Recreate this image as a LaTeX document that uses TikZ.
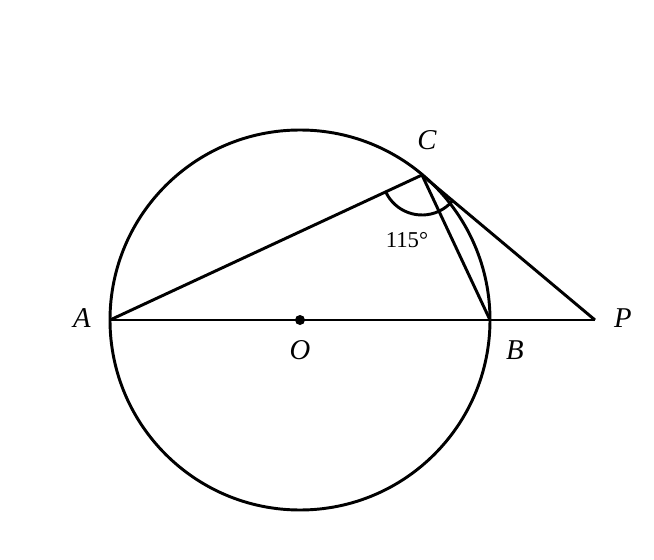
\documentclass[tikz,border=0pt]{standalone}
\usepackage{fontspec}
\setmainfont{Liberation Serif}
\begin{document}
\begin{tikzpicture}[x=0.75pt,y=-0.75pt,
  geo/.style={line width=2.2pt, line join=round},
  ptlabel/.style={font=\fontsize{21.5}{25}\selectfont\itshape, inner sep=0pt},
  anglabel/.style={font=\fontsize{17}{20}\selectfont, inner sep=0pt}]
\useasboundingbox (0,0) rectangle (654,560);
\coordinate (O) at (300,320);
\coordinate (A) at (110,320);
\coordinate (B) at (490,320);
\coordinate (C) at (422,175);
\coordinate (P) at (595,320);
\draw[geo] (O) circle[radius=190];
\draw[geo] (A) -- (P);
\draw[geo] (A) -- (C) -- (B);
\draw[geo] (C) -- (P);
\draw[geo] ([shift={(155.1:40)}]C) arc[start angle=155.1, end angle=40, radius=40];
\fill (O) circle[radius=5];
\node[ptlabel] (lA) at (82,318) {A};
\node[ptlabel] (lB) at (515,350) {B};
\node[ptlabel] (lC) at (427,140) {C};
\node[ptlabel] (lO) at (300,350) {O};
\node[ptlabel] (lP) at (623,318) {P};
\node[anglabel] (ang) at (407,240) {115°};
\end{tikzpicture}
\end{document}
